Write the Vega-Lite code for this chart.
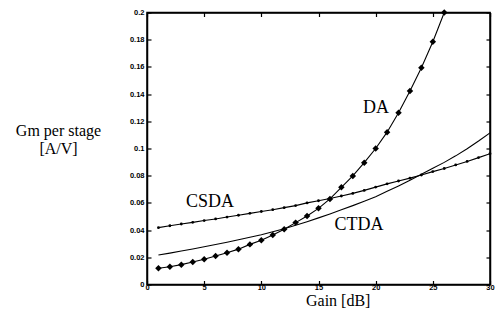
{
  "$schema": "https://vega.github.io/schema/vega-lite/v6.json",
  "autosize": "none",
  "width": 343,
  "height": 272,
  "padding": {"left": 147, "top": 12.5, "right": 5, "bottom": 43.5},
  "background": "white",
  "config": {
    "view": {"stroke": "black", "strokeWidth": 1.5},
    "axis": {
      "domainColor": "black", "domainWidth": 1.5,
      "tickColor": "black", "tickWidth": 1.2, "tickSize": -4,
      "labelFont": "Liberation Sans", "labelFontSize": 7.5, "labelFontWeight": "bold", "labelColor": "black",
      "titleFont": "Liberation Serif", "titleFontSize": 16, "titleFontWeight": "normal", "titleColor": "black",
      "grid": false
    }
  },
  "datasets": {
    "curves": [
      {"series": "DA", "gain": 1, "gm": 0.0119}, {"series": "DA", "gain": 2, "gm": 0.0131}, {"series": "DA", "gain": 3, "gm": 0.0146},
      {"series": "DA", "gain": 4, "gm": 0.0165}, {"series": "DA", "gain": 5, "gm": 0.0185}, {"series": "DA", "gain": 6, "gm": 0.021},
      {"series": "DA", "gain": 7, "gm": 0.0234}, {"series": "DA", "gain": 8, "gm": 0.026}, {"series": "DA", "gain": 9, "gm": 0.0295},
      {"series": "DA", "gain": 10, "gm": 0.0325}, {"series": "DA", "gain": 11, "gm": 0.0364}, {"series": "DA", "gain": 12, "gm": 0.0406},
      {"series": "DA", "gain": 13, "gm": 0.0455}, {"series": "DA", "gain": 14, "gm": 0.0504}, {"series": "DA", "gain": 15, "gm": 0.056},
      {"series": "DA", "gain": 16, "gm": 0.0629}, {"series": "DA", "gain": 17, "gm": 0.0715}, {"series": "DA", "gain": 18, "gm": 0.0798},
      {"series": "DA", "gain": 19, "gm": 0.0896}, {"series": "DA", "gain": 20, "gm": 0.1}, {"series": "DA", "gain": 21, "gm": 0.112},
      {"series": "DA", "gain": 22, "gm": 0.1263}, {"series": "DA", "gain": 23, "gm": 0.1423}, {"series": "DA", "gain": 24, "gm": 0.1594},
      {"series": "DA", "gain": 25, "gm": 0.1785}, {"series": "DA", "gain": 26, "gm": 0.2},
      {"series": "CSDA", "gain": 1, "gm": 0.0418}, {"series": "CSDA", "gain": 2, "gm": 0.0432}, {"series": "CSDA", "gain": 3, "gm": 0.0445},
      {"series": "CSDA", "gain": 4, "gm": 0.0457}, {"series": "CSDA", "gain": 5, "gm": 0.047}, {"series": "CSDA", "gain": 6, "gm": 0.0482},
      {"series": "CSDA", "gain": 7, "gm": 0.0496}, {"series": "CSDA", "gain": 8, "gm": 0.0509}, {"series": "CSDA", "gain": 9, "gm": 0.0523},
      {"series": "CSDA", "gain": 10, "gm": 0.0537}, {"series": "CSDA", "gain": 11, "gm": 0.055}, {"series": "CSDA", "gain": 12, "gm": 0.0565},
      {"series": "CSDA", "gain": 13, "gm": 0.058}, {"series": "CSDA", "gain": 14, "gm": 0.06}, {"series": "CSDA", "gain": 15, "gm": 0.0616},
      {"series": "CSDA", "gain": 16, "gm": 0.0632}, {"series": "CSDA", "gain": 17, "gm": 0.0651}, {"series": "CSDA", "gain": 18, "gm": 0.067},
      {"series": "CSDA", "gain": 19, "gm": 0.0692}, {"series": "CSDA", "gain": 20, "gm": 0.0716}, {"series": "CSDA", "gain": 21, "gm": 0.074},
      {"series": "CSDA", "gain": 22, "gm": 0.0761}, {"series": "CSDA", "gain": 23, "gm": 0.0782}, {"series": "CSDA", "gain": 24, "gm": 0.0805},
      {"series": "CSDA", "gain": 25, "gm": 0.083}, {"series": "CSDA", "gain": 26, "gm": 0.0853}, {"series": "CSDA", "gain": 27, "gm": 0.0879},
      {"series": "CSDA", "gain": 28, "gm": 0.0905}, {"series": "CSDA", "gain": 29, "gm": 0.0933}, {"series": "CSDA", "gain": 30, "gm": 0.0962},
      {"series": "CTDA", "gain": 1, "gm": 0.0217}, {"series": "CTDA", "gain": 2, "gm": 0.0231}, {"series": "CTDA", "gain": 3, "gm": 0.0246},
      {"series": "CTDA", "gain": 4, "gm": 0.0261}, {"series": "CTDA", "gain": 5, "gm": 0.0277}, {"series": "CTDA", "gain": 6, "gm": 0.0294},
      {"series": "CTDA", "gain": 7, "gm": 0.0311}, {"series": "CTDA", "gain": 8, "gm": 0.0329}, {"series": "CTDA", "gain": 9, "gm": 0.0347},
      {"series": "CTDA", "gain": 10, "gm": 0.0366}, {"series": "CTDA", "gain": 11, "gm": 0.0388}, {"series": "CTDA", "gain": 12, "gm": 0.041},
      {"series": "CTDA", "gain": 13, "gm": 0.0435}, {"series": "CTDA", "gain": 14, "gm": 0.0462}, {"series": "CTDA", "gain": 15, "gm": 0.049},
      {"series": "CTDA", "gain": 16, "gm": 0.0519}, {"series": "CTDA", "gain": 17, "gm": 0.0549}, {"series": "CTDA", "gain": 18, "gm": 0.058},
      {"series": "CTDA", "gain": 19, "gm": 0.0612}, {"series": "CTDA", "gain": 20, "gm": 0.0646}, {"series": "CTDA", "gain": 21, "gm": 0.0685},
      {"series": "CTDA", "gain": 22, "gm": 0.0725}, {"series": "CTDA", "gain": 23, "gm": 0.0767}, {"series": "CTDA", "gain": 24, "gm": 0.081},
      {"series": "CTDA", "gain": 25, "gm": 0.0855}, {"series": "CTDA", "gain": 26, "gm": 0.0898}, {"series": "CTDA", "gain": 27, "gm": 0.0946},
      {"series": "CTDA", "gain": 28, "gm": 0.0998}, {"series": "CTDA", "gain": 29, "gm": 0.1055}, {"series": "CTDA", "gain": 30, "gm": 0.1115}
    ],
    "labels": [
      {"name": "CSDA", "gain": 5.5, "gm": 0.0603},
      {"name": "DA", "gain": 20.03, "gm": 0.130},
      {"name": "CTDA", "gain": 18.55, "gm": 0.044}
    ]
  },
  "resolve": {"axis": {"x": "independent", "y": "independent"}},
  "layer": [
    {
      "data": {"name": "curves"},
      "mark": {"type": "line", "color": "black", "strokeWidth": 1.1, "clip": true},
      "encoding": {
        "x": {"field": "gain", "type": "quantitative",
              "scale": {"domain": [0, 30], "nice": false, "zero": false},
              "axis": {"values": [0, 5, 10, 15, 20, 25, 30], "labelPadding": 3, "labelFlush": false,
                       "title": "Gain [dB]", "titleX": 190.7, "titleY": 21, "titleAnchor": null, "titleAlign": "center", "titleBaseline": "alphabetic"}},
        "y": {"field": "gm", "type": "quantitative",
              "scale": {"domain": [0, 0.2], "nice": false},
              "axis": {"values": [0, 0.02, 0.04, 0.06, 0.08, 0.1, 0.12, 0.14, 0.16, 0.18, 0.2], "format": "~g", "labelPadding": 7, "labelFlush": false,
                       "title": ["Gm per stage", "[A/V]"], "titleAngle": 0, "titleX": -89, "titleY": 122.5, "titleAlign": "center", "titleBaseline": "alphabetic", "titleLineHeight": 18}},
        "detail": {"field": "series"}
      }
    },
    {
      "data": {"name": "curves"},
      "transform": [{"filter": "datum.series === 'DA'"}],
      "mark": {"type": "point", "shape": "diamond", "filled": true, "color": "black", "size": 42, "opacity": 1},
      "encoding": {
        "x": {"field": "gain", "type": "quantitative", "axis": null},
        "y": {"field": "gm", "type": "quantitative", "axis": null}
      }
    },
    {
      "data": {"name": "curves"},
      "transform": [{"filter": "datum.series === 'CSDA'"}],
      "mark": {"type": "point", "shape": "circle", "filled": true, "color": "black", "size": 8, "opacity": 1},
      "encoding": {
        "x": {"field": "gain", "type": "quantitative", "axis": null},
        "y": {"field": "gm", "type": "quantitative", "axis": null}
      }
    },
    {
      "data": {"name": "labels"},
      "mark": {"type": "text", "font": "Liberation Serif", "fontSize": 18, "color": "black", "align": "center", "baseline": "middle"},
      "encoding": {
        "x": {"field": "gain", "type": "quantitative", "axis": null},
        "y": {"field": "gm", "type": "quantitative", "axis": null},
        "text": {"field": "name"}
      }
    },
    {
      "data": {"name": "labels"},
      "mark": {"type": "point", "opacity": 0},
      "encoding": {
        "x": {"field": "gain", "type": "quantitative",
              "axis": {"orient": "top", "values": [0, 5, 10, 15, 20, 25, 30], "labels": false, "title": null}},
        "y": {"field": "gm", "type": "quantitative",
              "axis": {"orient": "right", "values": [0, 0.02, 0.04, 0.06, 0.08, 0.1, 0.12, 0.14, 0.16, 0.18, 0.2], "labels": false, "title": null}}
      }
    }
  ]
}
